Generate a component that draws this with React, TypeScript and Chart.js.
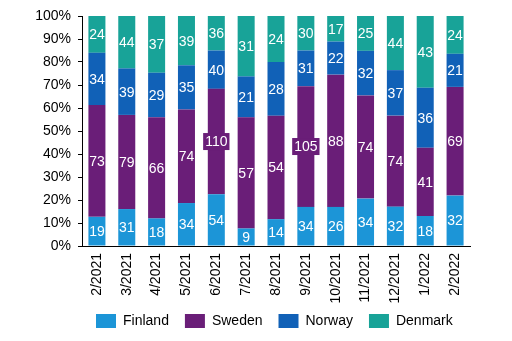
import React, { useEffect, useRef } from "react";
import { Chart, registerables } from "chart.js";

Chart.register(...registerables);

const categories = ["2/2021", "3/2021", "4/2021", "5/2021", "6/2021", "7/2021", "8/2021", "9/2021", "10/2021", "11/2021", "12/2021", "1/2022", "2/2022"];
const finland = [19, 31, 18, 34, 54, 9, 14, 34, 26, 34, 32, 18, 32];
const sweden = [73, 79, 66, 74, 110, 57, 54, 105, 88, 74, 74, 41, 69];
const norway = [34, 39, 29, 35, 40, 21, 28, 31, 22, 32, 37, 36, 21];
const denmark = [24, 44, 37, 39, 36, 31, 24, 30, 17, 25, 44, 43, 24];
const seriesNames = ["Finland", "Sweden", "Norway", "Denmark"];
const yTicks = [0, 10, 20, 30, 40, 50, 60, 70, 80, 90, 100];

const colors = ["#1C95D7", "#6A1E78", "#1161B7", "#18A398"];
const FONT = '"Liberation Sans", Arial, sans-serif';

const rawSeries = [finland, sweden, norway, denmark];
const totals = categories.map((_, i) => rawSeries.reduce((s, arr) => s + arr[i], 0));
const shares = rawSeries.map((arr) => arr.map((v, i) => (v / totals[i]) * 100));

const LEGEND_PAD = 16;
const LEGEND_X = 96;
const LEGEND_BOX_TOP = 314;

const segLabels = {
  id: "segLabels",
  afterDatasetsDraw(chart: any) {
    const ctx = chart.ctx;
    ctx.save();
    ctx.font = `14px ${FONT}`;
    ctx.textAlign = "center";
    ctx.textBaseline = "middle";
    chart.data.datasets.forEach((ds: any, di: number) => {
      const meta = chart.getDatasetMeta(di);
      meta.data.forEach((bar: any, i: number) => {
        const p = bar.getProps(["x", "y", "base", "width"], true);
        const cy = (p.y + p.base) / 2;
        const text = String(rawSeries[di][i]);
        const w = ctx.measureText(text).width;
        if (w > p.width - 1) {
          ctx.fillStyle = colors[di];
          ctx.fillRect(p.x - w / 2 - 2, cy - 8.5, w + 4, 17);
        }
        ctx.fillStyle = "#ffffff";
        ctx.fillText(text, p.x, cy + 1);
      });
    });
    ctx.restore();
  },
};

const legendPlace = {
  id: "legendPlace",
  afterLayout(chart: any) {
    const lg = chart.legend;
    if (!lg || !lg.lineWidths) return;
    const lw = lg.lineWidths[0];
    const w = chart.width;
    const a = LEGEND_X - (LEGEND_PAD + w - lw) / 2;
    lg.left = a;
    lg.right = a + w;
    lg.top = LEGEND_BOX_TOP - LEGEND_PAD;
    lg.bottom = chart.height;
  },
};

export default function App() {
  const ref = useRef<HTMLCanvasElement>(null);
  useEffect(() => {
    if (!ref.current) return;
    const chart = new Chart(ref.current, {
      type: "bar",
      data: {
        labels: categories,
        datasets: seriesNames.map((name, di) => ({
          label: name,
          data: shares[di],
          backgroundColor: colors[di],
          borderWidth: 0,
          categoryPercentage: 1,
          barPercentage: 0.57,
        })),
      },
      options: {
        responsive: false,
        animation: false,
        layout: { padding: { left: 30, right: 42, top: 16, bottom: 0 } },
        plugins: {
          tooltip: { enabled: false },
          legend: {
            position: "bottom",
            maxHeight: 30,
            labels: {
              boxWidth: 20,
              boxHeight: 14,
              padding: LEGEND_PAD,
              color: "#000",
              font: { family: FONT, size: 14 },
            },
          },
        },
        scales: {
          x: {
            stacked: true,
            grid: { display: false, drawTicks: false },
            border: { display: true, color: "#000", width: 1 },
            ticks: {
              autoSkip: false,
              minRotation: 90,
              maxRotation: 90,
              padding: 7,
              color: "#000",
              font: { family: FONT, size: 14 },
            },
            afterFit: (s: any) => {
              s.height = 65;
            },
          },
          y: {
            stacked: true,
            min: 0,
            max: 100,
            position: "left",
            grid: { drawOnChartArea: false, drawTicks: true, tickLength: 4, color: "#000" },
            border: { display: true, color: "#000", width: 1 },
            afterBuildTicks: (s: any) => {
              s.ticks = yTicks.map((v) => ({ value: v }));
            },
            ticks: {
              padding: 7,
              color: "#000",
              font: { family: FONT, size: 14 },
              callback: (v: any) => `${v}%`,
            },
            afterFit: (s: any) => {
              s.width = 52;
            },
          },
        },
      },
      plugins: [segLabels, legendPlace],
    });
    return () => chart.destroy();
  }, []);
  return (
    <div style={{ position: "absolute", left: 0, top: 0, width: 512, height: 341, background: "#fff" }}>
      <canvas ref={ref} width={512} height={341} />
    </div>
  );
}
